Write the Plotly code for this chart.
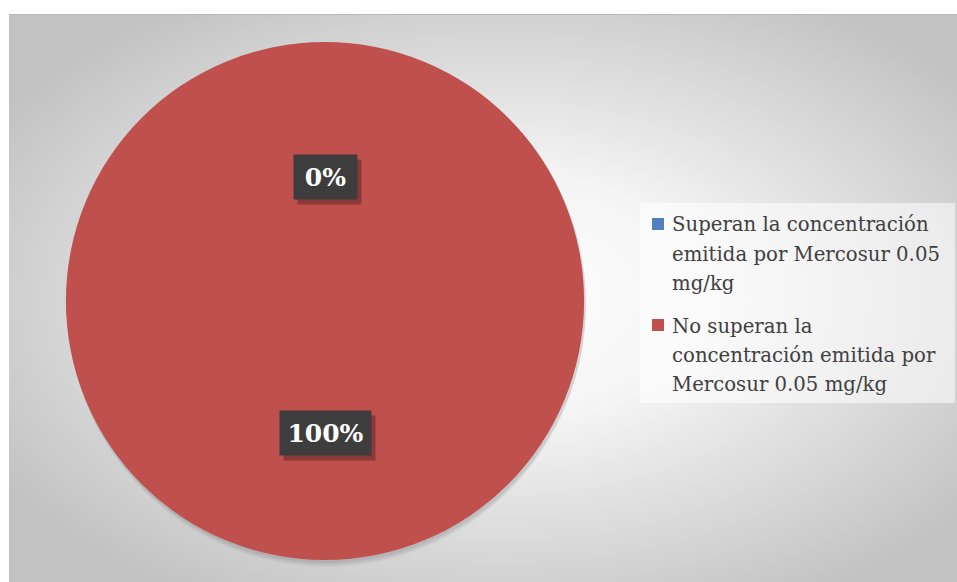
import base64, math
import plotly.graph_objects as go

labels = ["Superan la concentración emitida por Mercosur 0.05 mg/kg",
          "No superan la concentración emitida por Mercosur 0.05 mg/kg"]
legend_lines = [["Superan la concentración", "emitida por Mercosur 0.05", "mg/kg"],
                ["No superan la", "concentración emitida por", "Mercosur 0.05 mg/kg"]]
values = [0, 100]
colors = ["#4F81BD", "#C0504D"]

W, H = 957, 582
def px(x): return x / W
def py(y): return 1 - y / H

cx, cy, r = 325, 301, 259

svg = f'''<svg xmlns="http://www.w3.org/2000/svg" width="{W-9}" height="{H-14}">
<defs><radialGradient id="g" cx="52%" cy="50%" r="62%">
<stop offset="0%" stop-color="#ffffff"/><stop offset="35%" stop-color="#f4f4f4"/>
<stop offset="100%" stop-color="#c2c2c2"/></radialGradient></defs>
<rect width="100%" height="100%" fill="url(#g)"/>
<line x1="0" y1="0.5" x2="100%" y2="0.5" stroke="#b8b8b8" stroke-width="1"/>
</svg>'''
src = "data:image/svg+xml;base64," + base64.b64encode(svg.encode()).decode()

fig = go.Figure(go.Pie(
    labels=labels, values=values, sort=False, direction="clockwise", rotation=0,
    marker=dict(colors=colors, line=dict(width=0)), textinfo="none",
    hoverinfo="label+percent", showlegend=False,
    domain=dict(x=[px(cx - r), px(cx + r)], y=[py(cy + r), py(cy - r)]),
))

# soft shadow under pie
for k, a in [(7, 0.04), (5, 0.05), (3, 0.06)]:
    fig.add_shape(type="circle", xref="paper", yref="paper", layer="below",
                  x0=px(cx - r + 1), x1=px(cx + r + 2), y0=py(cy + r + k), y1=py(cy - r + 2),
                  fillcolor=f"rgba(0,0,0,{a})", line=dict(width=0))

# data labels placed at slice mid-angles
total = sum(values)
cum = 0
for v in values:
    frac = v / total
    mid = (cum + frac / 2) * 2 * math.pi
    cum += frac
    lr = 0.48 * r if frac < 0.5 else 0.51 * r
    lx = cx + lr * math.sin(mid)
    ly = cy - lr * math.cos(mid)
    s = f"{round(frac*100)}%"
    bw = 14 * len(s) + 19
    for dx, dy, bg, t in [(4, 5, "rgba(0,0,0,0.28)", "&nbsp;"),
                          (0, 0, "#3d3d3d", f"<b>{s}</b>")]:
        fig.add_annotation(x=px(lx + dx), y=py(ly + dy), xref="paper", yref="paper",
                           xanchor="center", yanchor="middle",
                           text=t, showarrow=False, bgcolor=bg, borderpad=8,
                           width=bw, height=28,
                           font=dict(family="DejaVu Serif", size=25, color="white"))

# legend (drawn to match original spacing)
fig.add_shape(type="rect", xref="paper", yref="paper", x0=px(640), x1=px(955),
              y0=py(403), y1=py(203), fillcolor="rgba(255,255,255,0.55)",
              line=dict(width=0))
ytop = [225, 326]
for i, lines in enumerate(legend_lines):
    fig.add_shape(type="rect", xref="paper", yref="paper", x0=px(652), x1=px(664),
                  y0=py(ytop[i] + 5), y1=py(ytop[i] - 7), fillcolor=colors[i],
                  line=dict(width=0))
    for j, ln in enumerate(lines):
        fig.add_annotation(x=px(670), y=py(ytop[i] + 29 * j), xref="paper", yref="paper",
                           xanchor="left", yanchor="middle", text=ln, showarrow=False,
                           font=dict(family="DejaVu Serif", size=19.7, color="#404040"))

fig.update_layout(
    width=W, height=H, margin=dict(l=0, r=0, t=0, b=0),
    paper_bgcolor="white", plot_bgcolor="white",
    images=[dict(source=src, xref="paper", yref="paper", x=px(9), y=py(14),
                 sizex=1 - px(9), sizey=py(14), xanchor="left", yanchor="top",
                 sizing="stretch", layer="below")],
    showlegend=False,
)

fig.write_html("out.html", config={"displayModeBar": False},
               post_script="document.body.style.margin='0';")
